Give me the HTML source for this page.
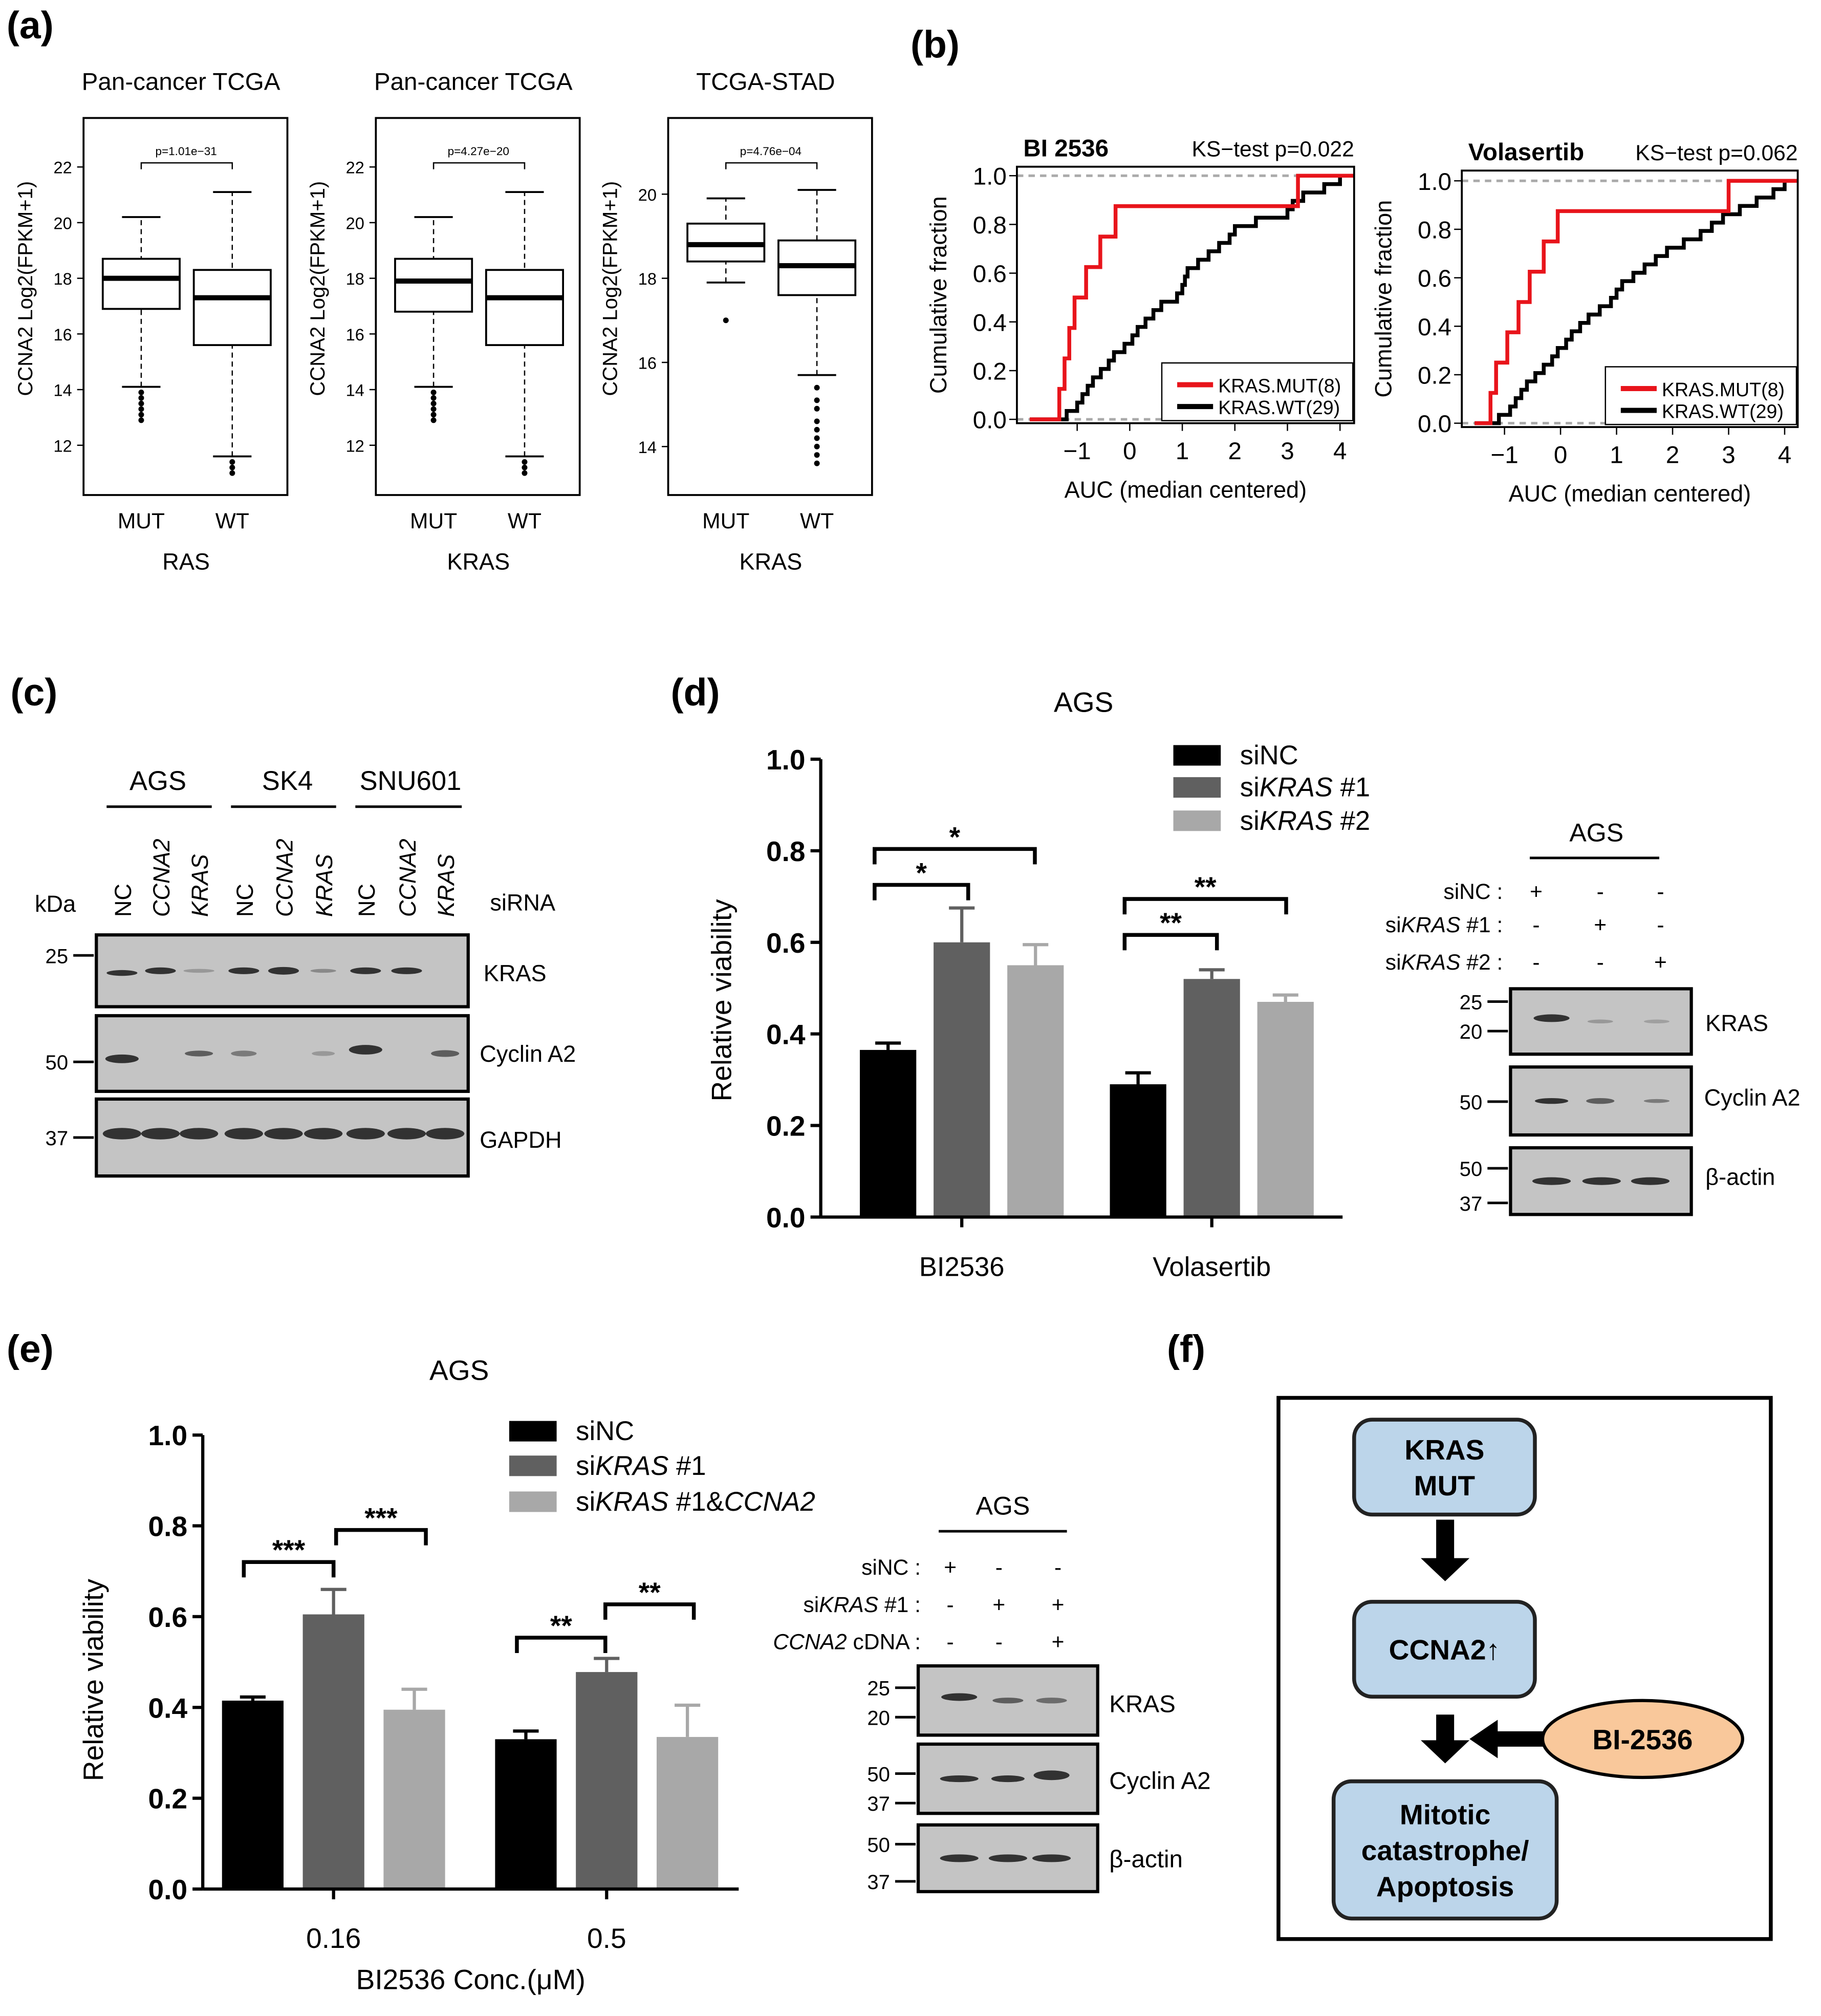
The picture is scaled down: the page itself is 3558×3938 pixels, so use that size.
<!DOCTYPE html>
<html><head><meta charset="utf-8"><style>
html,body{margin:0;padding:0;background:#fff;}
svg{display:block;font-family:"Liberation Sans",sans-serif;}
</style></head><body>
<svg id="root" xmlns="http://www.w3.org/2000/svg" width="3558" height="3938" viewBox="0 0 1420 1572">
<rect width="1420" height="1572" fill="#fff"/>
</svg>
<script>
// ---- data ----
const bpGroups=["MUT","WT"];
const bp1=[[14.1,16.9,18.0,18.7,20.2],[11.6,15.6,17.3,18.3,21.1]];
const bp1Out=[[13.9,13.7,13.5,13.3,13.1,12.9],[11.4,11.2,11.0]];
const bp2=[[14.1,16.8,17.9,18.7,20.2],[11.6,15.6,17.3,18.3,21.1]];
const bp2Out=[[13.9,13.7,13.5,13.3,13.1,12.9],[11.4,11.2,11.0]];
const bp3=[[17.9,18.4,18.8,19.3,19.9],[15.7,17.6,18.3,18.9,20.1]];
const bp3Out=[[17.0],[15.4,15.1,14.9,14.6,14.4,14.2,14.0,13.8,13.6]];
const bpTicksA=[12,14,16,18,20,22];
const bpTicksB=[14,16,18,20];
const ksMut1=[-1.34,-1.24,-1.15,-1.05,-0.83,-0.56,-0.27,3.2];
const ksWt1=[-1.2,-1.0,-0.9,-0.8,-0.7,-0.55,-0.4,-0.3,-0.1,0.05,0.15,0.3,0.45,0.6,0.9,1.0,1.05,1.1,1.3,1.5,1.7,1.9,2.0,2.4,3.0,3.1,3.3,3.7,4.0];
const ksMut2=[-1.25,-1.15,-0.95,-0.75,-0.55,-0.3,-0.05,3.0];
const ksWt2=[-1.1,-0.9,-0.8,-0.7,-0.6,-0.45,-0.3,-0.15,-0.05,0.1,0.2,0.35,0.5,0.7,0.9,1.0,1.1,1.3,1.5,1.7,1.9,2.2,2.5,2.7,2.9,3.2,3.5,3.8,4.0];
const ksXTicks=[-1,0,1,2,3,4];
const ksYTicks=[0,0.2,0.4,0.6,0.8,1.0];
const dCats=["BI2536","Volasertib"];
const dVals=[[0.365,0.60,0.55],[0.29,0.52,0.47]];
const dErr=[[0.015,0.075,0.045],[0.025,0.02,0.015]];
const eCats=["0.16","0.5"];
const eVals=[[0.415,0.605,0.395],[0.33,0.478,0.335]];
const eErr=[[0.008,0.055,0.045],[0.018,0.03,0.07]];
const barTicks=[0,0.2,0.4,0.6,0.8,1.0];
const barColors=["#000","#606060","#a8a8a8"];

const S="http://www.w3.org/2000/svg";const root=document.getElementById('root');
function mk(t,a,p){const e=document.createElementNS(S,t);for(const k in a)e.setAttribute(k,a[k]);(p||root).appendChild(e);return e;}
function tx(s,x,y,sz,a,p){const e=mk('text',Object.assign({x:x,y:y,'font-size':sz,fill:'#000'},a||{}),p);e.textContent=s;return e;}
function nm(e,n){return e;}

// panel labels
[["(a)",5,30],["(b)",710,45],["(c)",8,550],["(d)",523,550],["(e)",5,1062],["(f)",910,1062]].forEach(l=>{
 const e=tx(l[0],l[1],l[2],30,{'font-weight':'bold'});
 });

// ---- (a) boxplots ----
function boxPanel(fx,title,xl,ticks,y0,k,stats,outs,p,name){
 const g=mk('g',{});
 
 const Y=v=>217-(v-18)*k;
 tx(title,fx+76,70,19,{'text-anchor':'middle'},g);
 mk('rect',{x:fx,y:92,width:159,height:294,fill:'none',stroke:'#000','stroke-width':1.5},g);
 ticks.forEach(t=>{mk('line',{x1:fx-5,x2:fx,y1:Y(t),y2:Y(t),stroke:'#000'},g);
  tx(String(t),fx-9,Y(t)+5,13,{'text-anchor':'end'},g);});
 tx("CCNA2 Log2(FPKM+1)",0,0,16,{'text-anchor':'middle',transform:`translate(${fx-40},225) rotate(-90)`},g);
 [fx+45,fx+116].forEach((cx,i)=>{
  const s=stats[i];
  const ln=mk('line',{x1:cx,x2:cx,y1:Y(s[0]),y2:Y(s[4]),stroke:'#000','stroke-dasharray':'4 3'},g);
  nm(ln,'whisker');
  [s[0],s[4]].forEach(v=>mk('line',{x1:cx-15,x2:cx+15,y1:Y(v),y2:Y(v),stroke:'#000','stroke-width':1.5},g));
  const b=mk('rect',{x:cx-30,y:Y(s[3]),width:60,height:Y(s[1])-Y(s[3]),fill:'#fff',stroke:'#000','stroke-width':1.5},g);
  
  
  mk('line',{x1:cx-30,x2:cx+30,y1:Y(s[2]),y2:Y(s[2]),stroke:'#000','stroke-width':4},g);
  outs[i].forEach(v=>{const c=mk('circle',{cx:cx,cy:Y(v),r:2.2,fill:'#000'},g);
   });
  tx(bpGroups[i],cx,412,17,{'text-anchor':'middle'},g);
 });
 mk('path',{d:`M${fx+45} 132V127H${fx+116}V132`,fill:'none',stroke:'#000'},g);
 tx(p,fx+80,121,9,{'text-anchor':'middle'},g);
 tx(xl,fx+80,444,18,{'text-anchor':'middle'},g);
}
boxPanel(65,"Pan-cancer TCGA","RAS",bpTicksA,217,21.7,bp1,bp1Out,"p=1.01e−31","boxplot-ras");
boxPanel(293,"Pan-cancer TCGA","KRAS",bpTicksA,217,21.7,bp2,bp2Out,"p=4.27e−20","boxplot-kras");
boxPanel(521,"TCGA-STAD","KRAS",bpTicksB,217,32.8,bp3,bp3Out,"p=4.76e−04","boxplot-stad");

// ---- (b) ECDF ----
function ecdf(fx,fy,fw,fh,x0,kx,y0,ky,mut,wt,title,pval,name){
 const g=mk('g',{});
 
 const X=v=>x0+kx*v,Y=f=>y0-ky*f;
 tx(title,fx+5,fy-8,19,{'font-weight':'bold'},g);
 tx("KS−test p="+pval,fx+fw,fy-8,17,{'text-anchor':'end'},g);
 [0,1].forEach(f=>mk('line',{x1:fx,x2:fx+fw,y1:Y(f),y2:Y(f),stroke:'#aaa','stroke-width':2,'stroke-dasharray':'5 4'},g));
 function step(vals,col,n){
  const v=vals.slice().sort((a,b)=>a-b);let d=`M${fx+10} ${Y(0)}`;
  v.forEach((x,i)=>{d+=`H${X(x)}V${Y((i+1)/v.length)}`;});d+=`H${fx+fw}`;
  const p=mk('path',{d:d,fill:'none',stroke:col,'stroke-width':3},g);
  
 }
 step(wt,'#000','ecdf-kras-wt');step(mut,'#e8141b','ecdf-kras-mut');
 mk('rect',{x:fx,y:fy,width:fw,height:fh,fill:'none',stroke:'#000','stroke-width':1.5},g);
 ksYTicks.forEach(t=>{mk('line',{x1:fx-6,x2:fx,y1:Y(t),y2:Y(t),stroke:'#000'},g);
  tx(t.toFixed(1),fx-8,Y(t)+7,19,{'text-anchor':'end'},g);});
 ksXTicks.forEach(t=>{mk('line',{x1:X(t),x2:X(t),y1:fy+fh,y2:fy+fh+6,stroke:'#000'},g);
  tx(t<0?"−"+(-t):String(t),X(t),fy+fh+28,19,{'text-anchor':'middle'},g);});
 tx("AUC (median centered)",fx+fw/2,fy+fh+58,18,{'text-anchor':'middle'},g);
 tx("Cumulative fraction",0,0,18,{'text-anchor':'middle',transform:`translate(${fx-55},${fy+fh/2}) rotate(-90)`},g);
 const lg=mk('g',{},g);
 const lx=fx+fw-150;
 mk('rect',{x:lx,y:fy+fh-47,width:149,height:45,fill:'#fff',stroke:'#000'},lg);
 mk('line',{x1:lx+12,x2:lx+40,y1:fy+fh-30,y2:fy+fh-30,stroke:'#e8141b','stroke-width':4},lg);
 tx("KRAS.MUT(8)",lx+44,fy+fh-24,15,{},lg);
 mk('line',{x1:lx+12,x2:lx+40,y1:fy+fh-13,y2:fy+fh-13,stroke:'#000','stroke-width':4},lg);
 tx("KRAS.WT(29)",lx+44,fy+fh-7,15,{},lg);
}
ecdf(793,130,263,200,881,41,327,190,ksMut1,ksWt1,"BI 2536","0.022","ecdf-bi2536");
ecdf(1140,133,262,200,1217,43.7,330,189,ksMut2,ksWt2,"Volasertib","0.062","ecdf-volasertib");

// ---- blot helper ----
function blot(x,y,w,h,bands,name,p){
 const g=mk('g',{},p);
 mk('rect',{x:x,y:y,width:w,height:h,fill:'#c4c4c4',stroke:'#000','stroke-width':2.5},g);
 bands.forEach(b=>mk('ellipse',{cx:b[0],cy:y+h*b[3],rx:b[1],ry:b[2]*0.75,fill:'#222',opacity:(b[4]||1)*0.9},g));
}
function marker(x,y,l){mk('line',{x1:x-18,x2:x-2,y1:y,y2:y,stroke:'#000','stroke-width':2});tx(l,x-22,y+6,16,{'text-anchor':'end'});}

// ---- (c) ----
[["AGS",123,83,165],["SK4",224,180,262],["SNU601",320,277,360]].forEach(h=>{tx(h[0],h[1],616,21,{'text-anchor':'middle'});mk('line',{x1:h[2],x2:h[3],y1:629,y2:629,stroke:'#000','stroke-width':2});});
const lanesC=[95,125,155,190,221,252,285,317,347];
["NC","CCNA2","KRAS","NC","CCNA2","KRAS","NC","CCNA2","KRAS"].forEach((l,i)=>tx(l,0,0,18,{transform:`translate(${lanesC[i]+7},715) rotate(-90)`,'font-style':l=="NC"?'normal':'italic'}));
tx("kDa",27,711,18);tx("siRNA",382,710,18);
blot(75,729,290,56,[[95,12,3,.53],[125,12,3.5,.5],[155,12,2,.5,.3],[190,12,3.5,.5],[221,12,4,.5],[252,10,2,.5,.4],[285,12,3.5,.5],[317,12,3.5,.5]],"blot-kras");
blot(75,792,290,59,[[95,13,4.5,.57],[155,11,3,.5,.7],[190,10,3,.5,.5],[252,9,2.5,.5,.3],[285,13,5,.45],[347,11,3.5,.5,.7]],"blot-cyclin-a2");
blot(75,857,290,60,lanesC.map(x=>[x,15,6,.45]),"blot-gapdh");
marker(75,745,"25");marker(75,828,"50");marker(75,887,"37");
tx("KRAS",377,765,18);tx("Cyclin A2",374,828,18);tx("GAPDH",374,895,18);

// ---- bar charts ----
function barChart(ax,ytop,ybot,xend,centers,bw,gap,cats,vals,errs,name,tsz){
 const g=mk('g',{});
 const Y=v=>ybot-(ybot-ytop)*v;
 cats.forEach((c,ci)=>{vals[ci].forEach((v,si)=>{
  const x=centers[ci]+(si-1)*gap-bw/2;
  mk('line',{x1:x+bw/2,x2:x+bw/2,y1:Y(v),y2:Y(v+errs[ci][si]),stroke:barColors[si],'stroke-width':2.5},g);
  mk('line',{x1:x+bw/2-10,x2:x+bw/2+10,y1:Y(v+errs[ci][si]),y2:Y(v+errs[ci][si]),stroke:barColors[si],'stroke-width':2.5},g);
  const r=mk('rect',{x:x,y:Y(v),width:bw,height:Y(0)-Y(v),fill:barColors[si]},g);
  
 });
 mk('line',{x1:centers[ci],x2:centers[ci],y1:ybot,y2:ybot+8,stroke:'#000','stroke-width':2.5},g);
 tx(c,centers[ci],ybot+46,tsz,{'text-anchor':'middle'},g);});
 mk('line',{x1:ax,x2:ax,y1:ytop,y2:ybot,stroke:'#000','stroke-width':2.5},g);
 mk('line',{x1:ax,x2:xend,y1:ybot,y2:ybot,stroke:'#000','stroke-width':2.5},g);
 barTicks.forEach(t=>{mk('line',{x1:ax-8,x2:ax,y1:Y(t),y2:Y(t),stroke:'#000','stroke-width':2.5},g);
  tx(t.toFixed(1),ax-12,Y(t)+8,22,{'text-anchor':'end','font-weight':'bold'},g);});
 return Y;
}
function brk(x1,x2,y,l){mk('path',{d:`M${x1} ${y+12}V${y}H${x2}V${y+12}`,fill:'none',stroke:'#000','stroke-width':3});tx(l,(x1+x2)/2,y-2,22,{'text-anchor':'middle','font-weight':'bold'});}
function legend(x,ys,labels){labels.forEach((l,i)=>{mk('rect',{x:x,y:ys[i],width:37,height:16,fill:barColors[i]});const t=tx('',x+52,ys[i]+15,21);t.innerHTML=l;});}

// (d)
tx("AGS",845,555,22,{'text-anchor':'middle'});
barChart(640,592,949,1047,[750,945],44,57.5,dCats,dVals,dErr,"bar-chart-d",21);
tx("Relative viability",0,0,22,{'text-anchor':'middle',transform:'translate(570,780) rotate(-90)'});
brk(682,755,690,"*");brk(682,807,662,"*");brk(877,949,729,"**");brk(877,1003,701,"**");
legend(915,[581,606,632],["siNC",'si<tspan font-style="italic">KRAS</tspan> #1','si<tspan font-style="italic">KRAS</tspan> #2']);
tx("AGS",1245,656,20,{'text-anchor':'middle'});mk('line',{x1:1193,x2:1294,y1:669,y2:669,stroke:'#000','stroke-width':2});
[[695,"siNC :","+","-","-"],[721,'si<tspan font-style="italic">KRAS</tspan> #1 :',"-","+","-"],[750,'si<tspan font-style="italic">KRAS</tspan> #2 :',"-","-","+"]].forEach(r=>{
 const t=tx('',1172,r[0]+6,17,{'text-anchor':'end'});t.innerHTML=r[1];
 [1198,1248,1295].forEach((x,i)=>tx(r[i+2],x,r[0]+6,17,{'text-anchor':'middle'}));});
blot(1178,771,141,51,[[1210,14,4,.45],[1248,10,2,.5,.3],[1292,10,2,.5,.25]],"blot-d-kras");
blot(1178,832,141,53,[[1210,13,3,.5],[1248,11,3,.5,.7],[1292,10,2,.5,.5]],"blot-d-cyclin");
blot(1178,895,141,52,[[1210,15,4,.5],[1249,15,4,.5],[1287,15,4,.5]],"blot-d-actin");
marker(1178,781,"25");marker(1178,804,"20");marker(1178,859,"50");marker(1178,911,"50");marker(1178,938,"37");
tx("KRAS",1330,804,18);tx("Cyclin A2",1329,862,18);tx("β-actin",1330,924,18);

// (e)
tx("AGS",358,1076,22,{'text-anchor':'middle'});
barChart(158,1119,1473,576,[260,473],48,63,eCats,eVals,eErr,"bar-chart-e",22);
tx("BI2536 Conc.(μM)",367,1551,22,{'text-anchor':'middle'});
tx("Relative viability",0,0,22,{'text-anchor':'middle',transform:'translate(80,1310) rotate(-90)'});
brk(190,260,1218,"***");brk(262,332,1193,"***");brk(403,472,1277,"**");brk(472,541,1251,"**");
legend(397,[1108,1135,1163],["siNC",'si<tspan font-style="italic">KRAS</tspan> #1','si<tspan font-style="italic">KRAS</tspan> #1&amp;<tspan font-style="italic">CCNA2</tspan>']);
tx("AGS",782,1181,20,{'text-anchor':'middle'});mk('line',{x1:732,x2:832,y1:1194,y2:1194,stroke:'#000','stroke-width':2});
[[1222,"siNC :","+","-","-"],[1251,'si<tspan font-style="italic">KRAS</tspan> #1 :',"-","+","+"],[1280,'<tspan font-style="italic">CCNA2</tspan> cDNA :',"-","-","+"]].forEach(r=>{
 const t=tx('',718,r[0]+6,17,{'text-anchor':'end'});t.innerHTML=r[1];
 [741,779,825].forEach((x,i)=>tx(r[i+2],x,r[0]+6,17,{'text-anchor':'middle'}));});
blot(716,1299,140,54,[[748,14,4,.45],[786,12,3,.5,.7],[820,12,3,.5,.6]],"blot-e-kras");
blot(716,1360,140,54,[[748,15,3.5,.5],[786,13,3.5,.5],[820,14,5,.45]],"blot-e-cyclin");
blot(716,1423,140,52,[[748,15,4,.5],[786,15,4,.5],[820,15,4,.5]],"blot-e-actin");
marker(716,1316,"25");marker(716,1339,"20");marker(716,1383,"50");marker(716,1406,"37");marker(716,1438,"50");marker(716,1467,"37");
tx("KRAS",865,1335,19);tx("Cyclin A2",865,1395,19);tx("β-actin",865,1456,19);

// (f)
const fg=mk('g',{});
mk('rect',{x:997,y:1090,width:384,height:422,fill:'none',stroke:'#000','stroke-width':3},fg);
function node(x,y,w,h,lines,n){const r=mk('rect',{x:x,y:y,width:w,height:h,rx:14,fill:'#bcd5ea',stroke:'#222','stroke-width':3},fg);
 
 const cy=y+h/2-(lines.length-1)*14+8;lines.forEach((l,i)=>tx(l,x+w/2,cy+i*28,22,{'text-anchor':'middle','font-weight':'bold'},fg));}
node(1056,1107,141,74,["KRAS","MUT"],"node-kras-mut");
node(1056,1249,141,74,["CCNA2↑"],"node-ccna2");
node(1040,1389,174,107,["Mitotic","catastrophe/","Apoptosis"],"node-apoptosis");
function darr(cx,y1,y2){mk('path',{d:`M${cx-7} ${y1}H${cx+7}V${y2-18}H${cx+19}L${cx} ${y2}L${cx-19} ${y2-18}H${cx-7}Z`,fill:'#000'},fg);}
darr(1127,1185,1233);darr(1127,1337,1375);
mk('path',{d:`M1205 1350H1168V1341L1146 1356L1168 1371V1362H1205Z`,fill:'#000'},fg);
const el=mk('ellipse',{cx:1281,cy:1356,rx:78,ry:30,fill:'#f9c89b',stroke:'#000','stroke-width':2.5},fg);

tx("BI-2536",1281,1364,22,{'text-anchor':'middle','font-weight':'bold'},fg);
</script>
</body></html>
